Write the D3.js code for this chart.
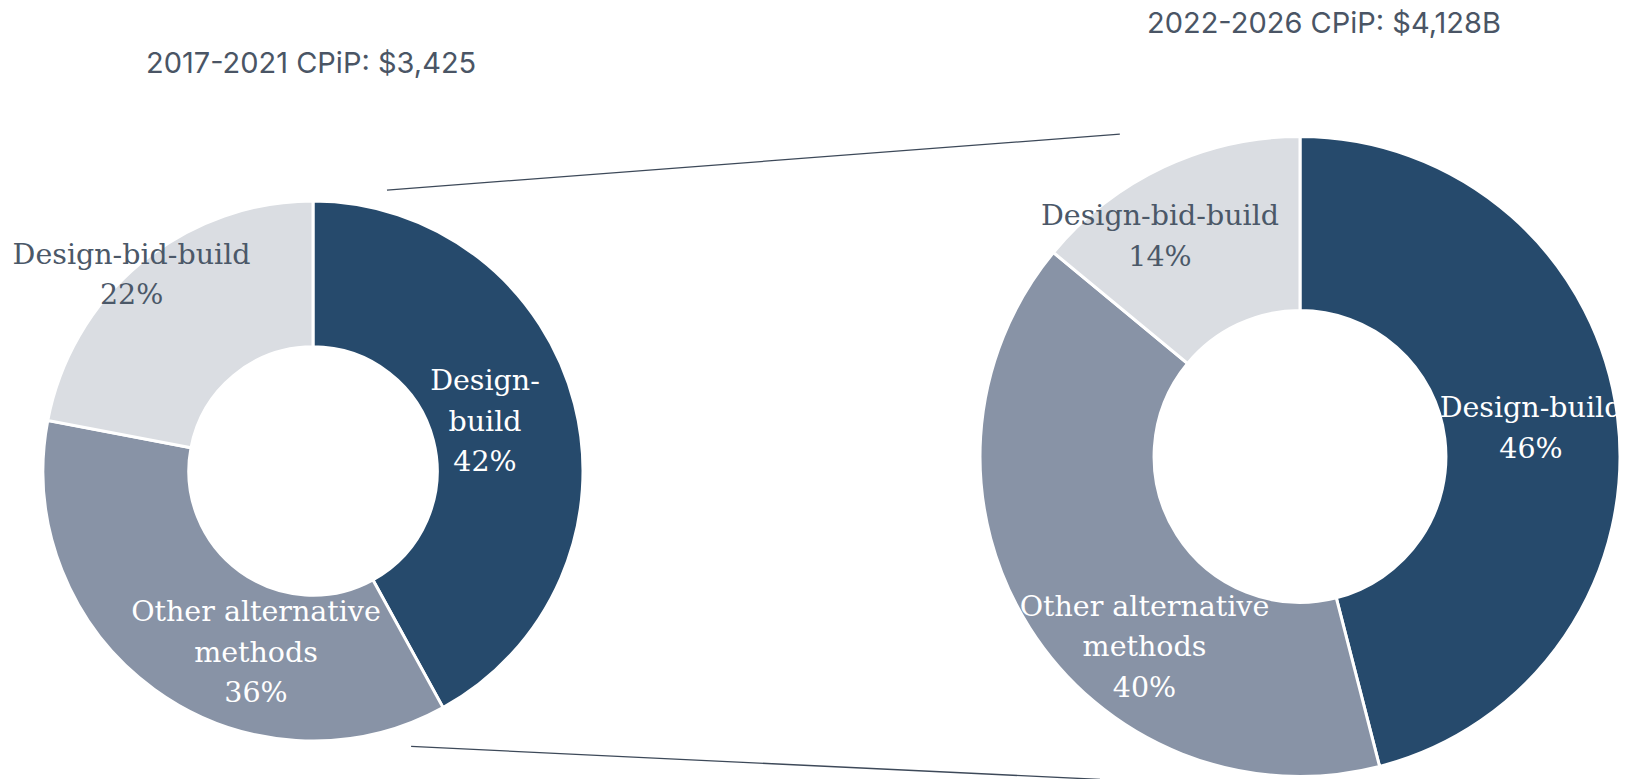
<!DOCTYPE html>
<html>
<head>
<meta charset="utf-8">
<script src="https://cdn.jsdelivr.net/npm/d3@7"></script>
<style>
  html, body { margin: 0; padding: 0; background: #fff; }
  svg { display: block; }
</style>
</head>
<body>
<div id="chart"></div>
<script>
// Data
var categories = ['Design-build', 'Other alternative methods', 'Design-bid-build'];
var shares2017 = [42, 36, 22];
var shares2022 = [46, 40, 14];
var titles = ['2017-2021 CPiP: $3,425', '2022-2026 CPiP: $4,128B'];
var labelLines2017 = [['Design-', 'build'], ['Other alternative', 'methods'], ['Design-bid-build']];
var labelLines2022 = [['Design-build'], ['Other alternative', 'methods'], ['Design-bid-build']];

var width = 1628, height = 779;
var colors = ['#264a6c', '#8893a6', '#dadde2'];
var labelColors = ['#ffffff', '#ffffff', '#4b5868'];
var lineGap = 40.5;

// donut geometry, label anchors are in units of the outer radius
var donuts = [
  { values: shares2017, lines: labelLines2017, title: titles[0],
    cx: 313, cy: 471, r: 270, hole: 0.46,
    titleX: 146, titleY: 73,
    anchors: [[0.637, -0.300], [-0.211, 0.557], [-0.672, -0.768]] },
  { values: shares2022, lines: labelLines2022, title: titles[1],
    cx: 1300, cy: 456.5, r: 320, hole: 0.456,
    titleX: 1147, titleY: 33,
    anchors: [[0.722, -0.122], [-0.486, 0.498], [-0.4375, -0.722]] }
];

function polar(d, angle, k) {
  var a = angle * Math.PI / 180;
  return [d.cx + Math.sin(a) * d.r * k, d.cy - Math.cos(a) * d.r * k];
}

var svg = d3.select('#chart').append('svg')
    .attr('width', width)
    .attr('height', height);

svg.append('defs').append('clipPath')
    .attr('id', 'plotclip')
  .append('rect')
    .attr('x', 0).attr('y', 0)
    .attr('width', 1619).attr('height', height);

var pie = d3.pie().sort(null).value(function(d) { return d; });

// connector lines between the two donuts
var connectors = [
  [polar(donuts[0], 14.75, 1.076), polar(donuts[1], -29.2, 1.154)],
  [polar(donuts[0], 160.4, 1.083), polar(donuts[1], 211.77, 1.187)]
];
svg.selectAll('line.connector')
    .data(connectors)
    .enter().append('line')
    .attr('class', 'connector')
    .attr('x1', function(d) { return d[0][0]; })
    .attr('y1', function(d) { return d[0][1]; })
    .attr('x2', function(d) { return d[1][0]; })
    .attr('y2', function(d) { return d[1][1]; })
    .attr('stroke', '#3d4959')
    .attr('stroke-width', 1.3);

donuts.forEach(function(dn) {
  var arc = d3.arc()
      .innerRadius(dn.r * dn.hole)
      .outerRadius(dn.r);

  var g = svg.append('g')
      .attr('clip-path', 'url(#plotclip)');

  var slices = g.append('g')
      .attr('transform', 'translate(' + dn.cx + ',' + dn.cy + ')');

  slices.selectAll('path')
      .data(pie(dn.values))
      .enter().append('path')
        .attr('d', arc)
        .attr('fill', function(d, i) { return colors[i]; })
        .attr('stroke', '#fff')
        .attr('stroke-width', 3)
        .attr('stroke-linejoin', 'miter');

  // slice labels
  var labels = g.selectAll('text.slicelabel')
      .data(dn.values)
      .enter().append('text')
        .attr('class', 'slicelabel')
        .attr('text-anchor', 'middle')
        .attr('font-family', '"DejaVu Serif", serif')
        .attr('font-size', '28.5px')
        .attr('fill', function(d, i) { return labelColors[i]; })
        .attr('x', function(d, i) { return dn.cx + dn.anchors[i][0] * dn.r; })
        .attr('y', function(d, i) { return dn.cy + dn.anchors[i][1] * dn.r; });

  labels.each(function(d, i) {
    var t = d3.select(this);
    var rows = dn.lines[i].concat([d + '%']);
    rows.forEach(function(row, j) {
      t.append('tspan')
        .attr('x', t.attr('x'))
        .attr('dy', j == 0 ? 0 : lineGap)
        .text(row);
    });
  });

  svg.append('text')
      .attr('x', dn.titleX)
      .attr('y', dn.titleY)
      .attr('font-family', 'Inter, "Noto Sans", sans-serif')
      .attr('font-size', '29px')
      .attr('fill', '#4a5565')
      .text(dn.title);
});
</script>
</body>
</html>
